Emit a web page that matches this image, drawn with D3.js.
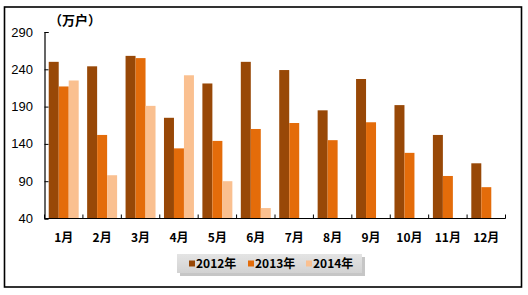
<!DOCTYPE html>
<html>
<head>
<meta charset="utf-8">
<script src="https://cdn.jsdelivr.net/npm/d3@7"></script>
<style>
  body { margin: 0; background: #fff; }
  svg { display: block; }
</style>
</head>
<body>
<div id="chart"></div>
<script>
// chart data
var months = ["1月", "2月", "3月", "4月", "5月", "6月", "7月", "8月", "9月", "10月", "11月", "12月"];
var series = ["2012年", "2013年", "2014年"];
var v2012 = [250, 244, 258, 175, 221, 250, 239, 185, 227, 192, 152, 114];
var v2013 = [217, 152, 255, 134, 144, 160, 168, 145, 169, 128, 97, 82];
var v2014 = [225, 98, 191, 232, 90, 54, null, null, null, null, null, null];
var yTicks = [40, 90, 140, 190, 240, 290];
var colors = ["#984807", "#e46c0a", "#fac090"];

var W = 528, H = 295;
var plot = {left: 44.5, right: 505.5, top: 32, bottom: 218.5};

var svg = d3.select("#chart")
  .append("svg")
    .attr("width", W)
    .attr("height", H);

// outer frame
svg.append("rect")
    .attr("x", 4.5).attr("y", 7)
    .attr("width", 517).attr("height", 280)
    .attr("fill", "#fff")
    .attr("stroke", "#000")
    .attr("stroke-width", 1.6);

// scales
var x0 = d3.scaleBand()
    .domain(months)
    .range([plot.left, plot.right])
    .paddingInner(0.22)
    .paddingOuter(0.11);

var x1 = d3.scaleBand()
    .domain(series)
    .range([0, x0.bandwidth()]);

var y = d3.scaleLinear()
    .domain([40, 290])
    .range([plot.bottom, plot.top]);

// bars
var rows = months.map(function(m, i) {
  return {month: m, vals: [v2012[i], v2013[i], v2014[i]]};
});

var groups = svg.selectAll("g.month")
  .data(rows)
  .enter().append("g")
    .attr("class", "month")
    .attr("transform", d => "translate(" + x0(d.month) + ",0)");

groups.selectAll("rect")
  .data(d => d.vals.map((v, j) => ({s: series[j], v: v, j: j})).filter(e => e.v != null))
  .enter().append("rect")
    .attr("x", d => x1(d.s))
    .attr("y", d => y(d.v))
    .attr("width", x1.bandwidth())
    .attr("height", d => y(40) - y(d.v))
    .attr("fill", d => colors[d.j]);

// y axis (ticks inside)
var yAxis = d3.axisRight(y).tickValues(yTicks).tickSize(4).tickFormat("");
var yg = svg.append("g")
    .attr("transform", "translate(" + plot.left + ",0)")
    .call(yAxis);
yg.select(".domain").attr("stroke", "#000").attr("stroke-width", 1.2);
yg.selectAll(".tick line").attr("stroke", "#000");

svg.selectAll("text.ylab")
  .data(yTicks)
  .enter().append("text")
    .attr("class", "ylab")
    .attr("x", 33)
    .attr("y", d => y(d) + 4.5)
    .attr("text-anchor", "end")
    .attr("font-family", "Liberation Sans, Arial, sans-serif")
    .attr("font-size", 13)
    .attr("fill", "#000")
    .text(d => d);

// x axis with ticks between categories pointing up
var xg = svg.append("g").attr("transform", "translate(0," + plot.bottom + ")");
xg.append("line")
    .attr("x1", plot.left).attr("x2", plot.right)
    .attr("stroke", "#000").attr("stroke-width", 1.2);
var step = x0.step();
var bounds = d3.range(months.length + 1).map(i => plot.left + i * step);
xg.selectAll("line.tk")
  .data(bounds)
  .enter().append("line")
    .attr("class", "tk")
    .attr("x1", d => d).attr("x2", d => d)
    .attr("y1", 0).attr("y2", -4)
    .attr("stroke", "#000");

svg.selectAll("text.xlab")
  .data(months)
  .enter().append("text")
    .attr("class", "xlab")
    .attr("x", d => x0(d) + x0.bandwidth() / 2)
    .attr("y", 242)
    .attr("text-anchor", "middle")
    .attr("font-family", "Noto Sans CJK SC, sans-serif")
    .attr("font-weight", "bold")
    .attr("font-size", 12)
    .attr("fill", "#000")
    .text(d => d);

// unit label
svg.append("text")
    .attr("x", 75)
    .attr("y", 25)
    .attr("text-anchor", "middle")
    .attr("font-family", "Noto Sans CJK SC, sans-serif")
    .attr("font-weight", "bold")
    .attr("font-size", 13)
    .text("（万户）");

// legend
var defs = svg.append("defs");
var grad = defs.append("linearGradient")
    .attr("id", "lg").attr("x1", 0).attr("y1", 0).attr("x2", 0).attr("y2", 1);
grad.append("stop").attr("offset", "0%").attr("stop-color", "#e4e4e4");
grad.append("stop").attr("offset", "100%").attr("stop-color", "#d2d2d2");

svg.append("rect")
    .attr("x", 180).attr("y", 257)
    .attr("width", 185).attr("height", 19)
    .attr("fill", "#a0a0a0").attr("opacity", 0.6);
svg.append("rect")
    .attr("x", 177).attr("y", 254)
    .attr("width", 185).attr("height", 19)
    .attr("fill", "url(#lg)");

var legX = [189, 248, 306];
var leg = svg.selectAll("g.leg")
  .data(series)
  .enter().append("g")
    .attr("class", "leg")
    .attr("transform", (d, i) => "translate(" + legX[i] + ",263.5)");
leg.append("rect")
    .attr("x", 0).attr("y", -3)
    .attr("width", 6).attr("height", 6)
    .attr("fill", (d, i) => colors[i]);
leg.append("text")
    .attr("x", 7)
    .attr("y", 4.5)
    .attr("font-family", "Noto Sans CJK SC, sans-serif")
    .attr("font-weight", "bold")
    .attr("font-size", 12)
    .attr("fill", "#000")
    .text(d => d);
</script>
</body>
</html>
